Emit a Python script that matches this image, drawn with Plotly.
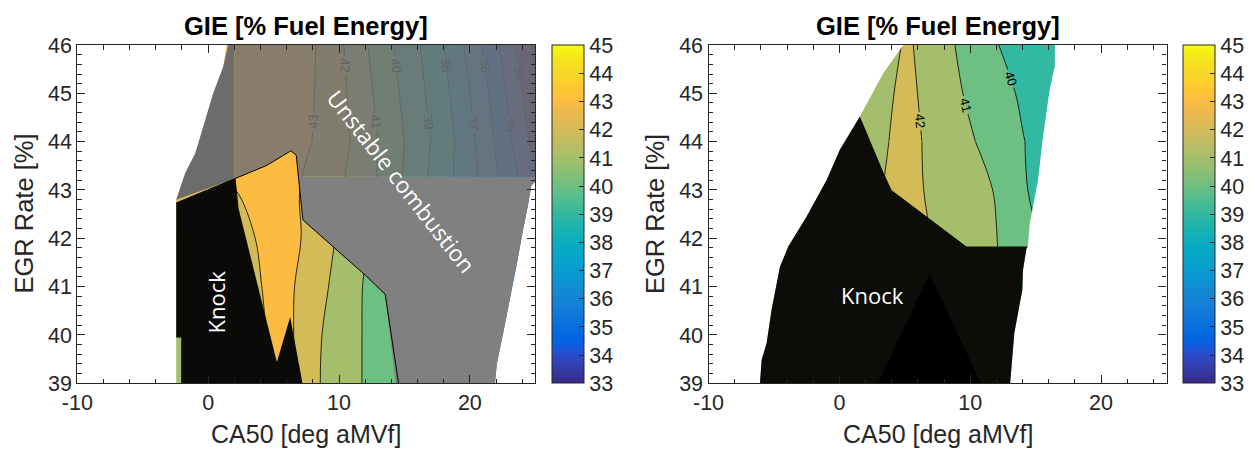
import plotly.graph_objects as go

# ---------------- DATA ----------------
# Left panel (GIE field, % fuel energy) on a CA50 x EGR grid
ca50_L = [-3, 0, 2, 3.5, 5, 6.5, 8, 10, 12, 14, 16, 18, 20, 22, 24, 26]
egr_L = [39, 40, 41, 42, 43, 44, 45, 46]
gie_L_39 = [41.6, 42.0, 42.3, 42.6, 42.9, 43.05, 42.2, 41.49, 40.93, 40.3, 39.6, 38.8, 37.9, 36.8, 35.5, 34.0]
gie_L_40 = [41.5, 42.0, 42.4, 42.7, 43.15, 43.02, 42.15, 41.72, 40.90, 40.3, 39.6, 38.8, 37.8, 36.6, 35.3, 34.0]
gie_L_41 = [41.6, 42.1, 42.5, 42.8, 43.3, 43.05, 42.3, 41.8, 40.91, 40.3, 39.6, 38.7, 37.7, 36.5, 35.2, 33.9]
gie_L_42 = [41.9, 42.3, 42.65, 42.97, 43.4, 43.2, 42.7, 41.88, 41.1, 40.3, 39.6, 38.7, 37.7, 36.5, 35.2, 33.9]
gie_L_43 = [42.6, 42.8, 42.98, 43.3, 43.5, 43.2, 42.6, 42.1, 41.4, 40.4, 39.4, 38.4, 37.4, 36.2, 34.9, 33.6]
gie_L_44 = [43.1, 43.3, 43.5, 43.6, 43.6, 43.4, 42.98, 42.4, 41.45, 40.5, 39.5, 38.5, 37.3, 35.9, 34.4, 32.9]
gie_L_45 = [43.2, 43.4, 43.5, 43.6, 43.6, 43.4, 43.05, 42.3, 41.3, 40.3, 39.3, 38.3, 37.0, 35.6, 34.0, 32.5]
gie_L_46 = [43.2, 43.4, 43.5, 43.6, 43.6, 43.4, 43.1, 42.2, 41.1, 40.1, 39.1, 38.0, 36.7, 35.2, 33.6, 32.0]

# Left panel regions
maskL1_x = [-11, -2.44, -2.44, -1.75, -0.98, -0.22, 0.39, 1.15, 1.7, -11]
maskL1_y = [38.5, 38.5, 42.8, 43.35, 43.76, 44.45, 45.0, 45.55, 46.5, 46.5]
maskL2_x = [25.5, 24.7, 24.45, 24.05, 23.6, 23.1, 22.6, 22.06, 21.75, 25.5]
maskL2_y = [43.28, 43.1, 42.7, 42.17, 41.48, 40.79, 40.1, 39.4, 38.5, 38.5]
grayDark_x = [-2.44, -1.75, -0.98, -0.22, 0.39, 1.15, 1.7, 2.0, 2.0]
grayDark_y = [42.8, 43.35, 43.76, 44.45, 45.0, 45.55, 46.2, 46.2, 43.23]
grayTint_x = [2.0, 26, 26, 6.9, 6.73, 6.32, 4.49, 2.1, 2.0]
grayTint_y = [46.2, 46.2, 43.28, 43.28, 43.72, 43.81, 43.51, 43.24, 43.23]
graySolid_x = [6.9, 7.24, 9.59, 12.0, 13.53, 14.55, 21.75, 22.06, 22.6, 23.1, 23.6, 24.05, 24.45, 24.7, 25.5]
graySolid_y = [43.28, 42.38, 41.81, 41.24, 40.84, 38.5, 38.5, 39.4, 40.1, 40.79, 41.48, 42.17, 42.7, 43.1, 43.28]
knockL_x = [-2.44, 2.1, 2.32, 5.25, 6.27, 7.55, -2.06, -2.06, -2.44]
knockL_y = [42.73, 43.24, 42.62, 39.44, 40.37, 38.5, 38.5, 39.95, 39.95]
stableL_x = [-2.44, 2.1, 4.49, 6.32, 6.73, 7.24, 9.59, 12.0, 13.53, 14.55]
stableL_y = [42.73, 43.24, 43.51, 43.81, 43.72, 42.38, 41.81, 41.24, 40.84, 39.0]

# Right panel (GIE field)
ca50_R = [-7, -3, 0, 2, 3.5, 5.2, 7, 8.5, 10, 12, 14, 16, 18]
egr_R = [39, 40, 41, 42, 43, 44, 45, 46]
gie_R_39 = [40.5, 41.2, 41.7, 42.1, 42.5, 42.9, 42.3, 42.0, 41.7, 41.3, 40.6, 40.1, 39.6]
gie_R_40 = [40.4, 41.1, 41.6, 42.0, 42.4, 42.8, 42.2, 41.9, 41.6, 41.2, 40.5, 40.0, 39.5]
gie_R_41 = [40.3, 41.0, 41.5, 41.9, 42.3, 42.7, 42.1, 41.8, 41.55, 41.1, 40.4, 39.9, 39.4]
gie_R_42 = [40.2, 40.9, 41.4, 41.8, 42.2, 42.6, 42.0, 41.7, 41.45, 41.02, 40.3, 39.8, 39.3]
gie_R_43 = [40.1, 40.8, 41.3, 41.7, 42.05, 42.45, 41.8, 41.55, 41.3, 40.95, 40.1, 39.6, 39.1]
gie_R_44 = [39.9, 40.6, 41.2, 41.6, 41.92, 42.4, 41.75, 41.4, 41.1, 40.6, 40.05, 39.5, 39.0]
gie_R_45 = [39.6, 40.3, 40.9, 41.3, 41.8, 42.3, 41.6, 41.25, 40.85, 40.4, 39.85, 39.35, 38.7]
gie_R_46 = [39.5, 40.2, 40.8, 41.2, 41.6, 42.15, 41.55, 41.1, 40.65, 40.05, 39.5, 39.2, 38.5]

maskR1_x = [-11, -6.2, -5.94, -5.56, -5.18, -4.54, -3.9, -2.5, -0.98, 0.04, 1.57, 3.34, 4.88, 4.95, -11]
maskR1_y = [38.5, 38.5, 39.48, 39.83, 40.52, 41.41, 41.83, 42.45, 43.2, 43.83, 44.52, 45.41, 46.0, 46.5, 46.5]
maskR2_x = [16.47, 16.47, 16.07, 15.56, 15.18, 14.55, 14.4, 14.3, 14.03, 13.98, 13.37, 12.9, 26, 26]
maskR2_y = [46.5, 45.58, 45.07, 44.1, 43.2, 42.3, 41.83, 41.79, 41.34, 40.93, 40.04, 38.5, 38.5, 46.5]
knockR_x = [-6.2, -5.94, -5.56, -5.18, -4.54, -3.9, -2.5, -0.98, 0.04, 1.57, 3.34, 3.98, 9.71, 14.4, 14.3, 14.03, 13.98, 13.37, 12.9]
knockR_y = [38.5, 39.48, 39.83, 40.52, 41.41, 41.83, 42.45, 43.2, 43.83, 44.52, 43.38, 43.0, 41.83, 41.83, 41.79, 41.34, 40.93, 40.04, 38.5]
knockCore_x = [2.1, 6.89, 11.68]
knockCore_y = [38.5, 41.27, 38.5]

x_ticks = [-10, 0, 10, 20]
x_ticktext = ["-10", "0", "10", "20"]
y_ticks = [39, 40, 41, 42, 43, 44, 45, 46]
cbar_ticks = list(range(33, 46))
z_min, z_max = 33, 45
label_row = 5        # rows from EGR 44 upward carry contour labels
label_col_R = 5      # right panel: labelled lines lie right of CA50 5.2

# ---------------- COLORS ----------------
PARULA = [
    [0.2081, 0.1663, 0.5292], [0.2116, 0.1898, 0.5777], [0.2123, 0.2138, 0.6270], [0.2081, 0.2386, 0.6771],
    [0.1959, 0.2645, 0.7279], [0.1707, 0.2919, 0.7792], [0.1253, 0.3242, 0.8303], [0.0591, 0.3598, 0.8683],
    [0.0117, 0.3875, 0.8820], [0.0060, 0.4086, 0.8828], [0.0165, 0.4266, 0.8786], [0.0329, 0.4430, 0.8720],
    [0.0498, 0.4586, 0.8641], [0.0629, 0.4737, 0.8554], [0.0723, 0.4887, 0.8467], [0.0779, 0.5040, 0.8384],
    [0.0793, 0.5200, 0.8312], [0.0749, 0.5375, 0.8263], [0.0641, 0.5570, 0.8240], [0.0488, 0.5772, 0.8228],
    [0.0343, 0.5966, 0.8199], [0.0265, 0.6137, 0.8135], [0.0239, 0.6287, 0.8038], [0.0231, 0.6418, 0.7913],
    [0.0228, 0.6535, 0.7768], [0.0267, 0.6642, 0.7607], [0.0384, 0.6743, 0.7436], [0.0590, 0.6838, 0.7254],
    [0.0843, 0.6928, 0.7062], [0.1133, 0.7015, 0.6859], [0.1453, 0.7098, 0.6646], [0.1801, 0.7177, 0.6424],
    [0.2178, 0.7250, 0.6193], [0.2586, 0.7317, 0.5954], [0.3022, 0.7376, 0.5712], [0.3482, 0.7424, 0.5473],
    [0.3953, 0.7459, 0.5244], [0.4420, 0.7481, 0.5033], [0.4871, 0.7491, 0.4840], [0.5300, 0.7491, 0.4661],
    [0.5709, 0.7485, 0.4494], [0.6099, 0.7473, 0.4337], [0.6473, 0.7456, 0.4188], [0.6834, 0.7435, 0.4044],
    [0.7184, 0.7411, 0.3905], [0.7525, 0.7384, 0.3768], [0.7858, 0.7356, 0.3633], [0.8185, 0.7327, 0.3498],
    [0.8507, 0.7299, 0.3360], [0.8824, 0.7274, 0.3217], [0.9139, 0.7258, 0.3063], [0.9450, 0.7261, 0.2886],
    [0.9739, 0.7314, 0.2666], [0.9938, 0.7455, 0.2403], [0.9990, 0.7653, 0.2164], [0.9955, 0.7861, 0.1967],
    [0.9880, 0.8066, 0.1794], [0.9789, 0.8271, 0.1633], [0.9697, 0.8481, 0.1475], [0.9626, 0.8705, 0.1309],
    [0.9589, 0.8949, 0.1132], [0.9598, 0.9218, 0.0948], [0.9661, 0.9514, 0.0755], [0.9763, 0.9831, 0.0538]]


def rgb(c):
    return "rgb(%d,%d,%d)" % tuple(round(255 * v) for v in c)


def parula(t):
    p = t * (len(PARULA) - 1)
    i = min(int(p), len(PARULA) - 2)
    f = p - i
    return [PARULA[i][j] * (1 - f) + PARULA[i + 1][j] * f for j in range(3)]


parula_cs = [[i / (len(PARULA) - 1), rgb(c)] for i, c in enumerate(PARULA)]
n_bands = z_max - z_min
stepped_cs = []
for i in range(n_bands):
    col = rgb(parula(i / n_bands))
    lo = 0 if i == 0 else (i - 0.25) / n_bands
    hi = 1 if i == n_bands - 1 else (i + 0.75) / n_bands
    stepped_cs += [[lo, col], [hi, col]]

AX = "#262626"
FONT = "Liberation Sans, Arial, sans-serif"
TXT = "Open Sans, sans-serif"

fig = go.Figure()


def fill_contour(x, y, z, xa, ya):
    return go.Contour(
        x=x, y=y, z=z, xaxis=xa, yaxis=ya, colorscale=stepped_cs, zmin=z_min, zmax=z_max,
        zauto=False, autocontour=False, showscale=False, hoverinfo="skip",
        contours=dict(start=z_min, end=z_max, size=1, coloring="fill", showlines=False),
        line=dict(width=0))


def line_contour(x, y, z, xa, ya, labels):
    return go.Contour(
        x=x, y=y, z=z, xaxis=xa, yaxis=ya, autocontour=False, showscale=False, hoverinfo="skip",
        contours=dict(start=z_min, end=z_max, size=1, coloring="none", showlabels=labels,
                      labelfont=dict(size=13, color="black", family=FONT)),
        line=dict(color="black", width=0.8))


def poly(x, y, color, xa, ya, lw=0, lc="black"):
    return go.Scatter(x=x, y=y, xaxis=xa, yaxis=ya, mode="lines", fill="toself",
                      fillcolor=color, line=dict(width=lw, color=lc), hoverinfo="skip")


# Left panel
zL = [gie_L_39, gie_L_40, gie_L_41, gie_L_42, gie_L_43, gie_L_44, gie_L_45, gie_L_46]
fig.add_trace(fill_contour(ca50_L, egr_L, zL, "x", "y"))
fig.add_trace(line_contour(ca50_L, egr_L[:label_row + 1], zL[:label_row + 1], "x", "y", False))
fig.add_trace(line_contour(ca50_L, egr_L[label_row:], zL[label_row:], "x", "y", True))
fig.add_trace(poly(maskL1_x, maskL1_y, "white", "x", "y"))
fig.add_trace(poly(maskL2_x, maskL2_y, "white", "x", "y"))
fig.add_trace(poly(grayDark_x, grayDark_y, "rgb(108,108,108)", "x", "y"))
fig.add_trace(poly(grayTint_x, grayTint_y, "rgba(114,114,114,0.85)", "x", "y"))
fig.add_trace(poly(graySolid_x, graySolid_y, "rgb(128,128,128)", "x", "y"))
fig.add_trace(poly(knockL_x, knockL_y, "rgb(10,10,8)", "x", "y"))
fig.add_trace(go.Scatter(x=stableL_x, y=stableL_y, xaxis="x", yaxis="y", mode="lines",
                         line=dict(color="black", width=1), hoverinfo="skip"))

# Right panel
zR = [gie_R_39, gie_R_40, gie_R_41, gie_R_42, gie_R_43, gie_R_44, gie_R_45, gie_R_46]
fig.add_trace(fill_contour(ca50_R, egr_R, zR, "x2", "y2"))
fig.add_trace(line_contour(ca50_R, egr_R[:label_row + 1], zR[:label_row + 1], "x2", "y2", False))
fig.add_trace(line_contour(ca50_R[:label_col_R + 1], egr_R[label_row:],
                           [r[:label_col_R + 1] for r in zR[label_row:]], "x2", "y2", False))
fig.add_trace(line_contour(ca50_R[label_col_R:], egr_R[label_row:],
                           [r[label_col_R:] for r in zR[label_row:]], "x2", "y2", True))
fig.add_trace(poly(maskR1_x, maskR1_y, "white", "x2", "y2"))
fig.add_trace(poly(maskR2_x, maskR2_y, "white", "x2", "y2"))
fig.add_trace(poly(knockR_x, knockR_y, "rgb(12,12,9)", "x2", "y2"))
fig.add_trace(poly(knockCore_x, knockCore_y, "black", "x2", "y2"))

# Colorbars (continuous parula)
W, H = 1255, 449
XL = [77.3 / W, 535.3 / W]
XR = [708.5 / W, 1166.5 / W]
YD = [1 - 383.3 / H, 1 - 45.0 / H]
for xa, ya, cx in (("x", "y", 552 / W), ("x2", "y2", 1183 / W)):
    fig.add_trace(go.Scatter(
        x=[None], y=[None], xaxis=xa, yaxis=ya, mode="markers", hoverinfo="skip",
        marker=dict(color=[z_min], colorscale=parula_cs, cmin=z_min, cmax=z_max, showscale=True,
                    colorbar=dict(x=cx, xanchor="left", y=YD[0], yanchor="bottom",
                                  len=YD[1] - YD[0], lenmode="fraction", thickness=32,
                                  thicknessmode="pixels", outlinewidth=1, outlinecolor=AX,
                                  ticks="inside", ticklen=5, tickwidth=1, tickcolor=AX,
                                  tickvals=cbar_ticks, xpad=0, ypad=0, borderwidth=0,
                                  tickfont=dict(size=21.5, family=FONT, color=AX)))))

axis_common = dict(showline=True, linecolor=AX, linewidth=1.3, mirror="ticks", ticks="inside",
                   ticklen=8, tickwidth=1.3, tickcolor=AX, showgrid=False, zeroline=False,
                   tickfont=dict(size=21.5, family=FONT, color=AX))
xcommon = dict(axis_common, range=[-10, 25], tickvals=x_ticks, ticktext=x_ticktext,
               minor=dict(dtick=2, tick0=0, ticks="inside", ticklen=4.5, tickcolor=AX, tickwidth=1.1))
ycommon = dict(axis_common, range=[39, 46], tickvals=y_ticks,
               minor=dict(dtick=0.2, tick0=39, ticks="inside", ticklen=4.5, tickcolor=AX, tickwidth=1.1))

fig.update_layout(
    width=W, height=H, margin=dict(l=0, r=0, t=0, b=0, autoexpand=False), paper_bgcolor="white",
    plot_bgcolor="white", showlegend=False,
    xaxis=dict(xcommon, domain=XL, anchor="y"),
    yaxis=dict(ycommon, domain=YD, anchor="x"),
    xaxis2=dict(xcommon, domain=XR, anchor="y2"),
    yaxis2=dict(ycommon, domain=YD, anchor="x2"),
)

ann = []
for xd, ylab_x in ((XL, 23.6 / W), (XR, 655 / W)):
    cx = (xd[0] + xd[1]) / 2
    ann.append(dict(text="<b>GIE [% Fuel Energy]</b>", x=cx, y=1 - 26 / H, xref="paper", yref="paper",
                    showarrow=False, font=dict(size=25.5, family=FONT, color="black"),
                    xanchor="center", yanchor="middle"))
    ann.append(dict(text="CA50 [deg aMVf]", x=cx, y=1 - 434 / H, xref="paper", yref="paper",
                    showarrow=False, font=dict(size=25, family=FONT, color=AX),
                    xanchor="center", yanchor="middle"))
    ann.append(dict(text="EGR Rate [%]", x=ylab_x, y=1 - 214 / H, xref="paper", yref="paper",
                    showarrow=False, font=dict(size=25.5, family=FONT, color=AX), textangle=-90,
                    xanchor="center", yanchor="middle"))

ann.append(dict(text="Knock", x=0.62, y=40.68, xref="x", yref="y", showarrow=False, textangle=-90,
                font=dict(size=22, family=TXT, color="white")))
ann.append(dict(text="Unstable combustion", x=14.74, y=43.17, xref="x", yref="y", showarrow=False,
                textangle=52, font=dict(size=22.5, family=TXT, color="white")))
ann.append(dict(text="Knock", x=2.53, y=40.82, xref="x2", yref="y2", showarrow=False,
                font=dict(size=22, family=TXT, color="white")))
fig.update_layout(annotations=ann)

fig.write_html("out.html")
